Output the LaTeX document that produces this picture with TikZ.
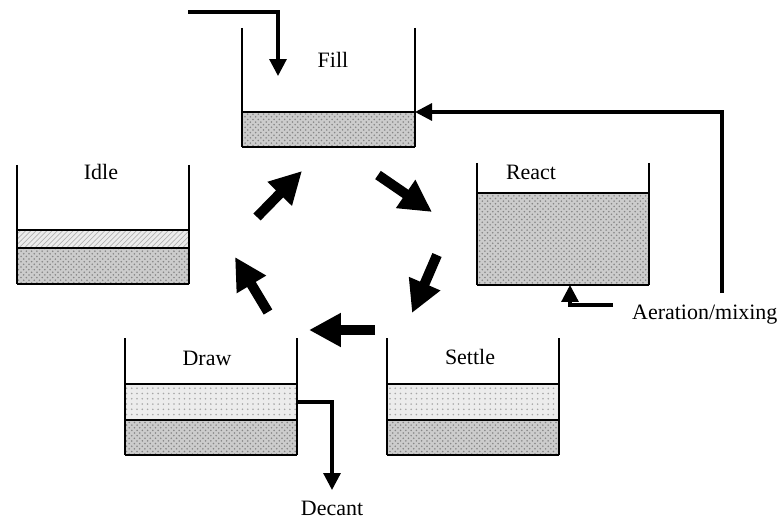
\documentclass[tikz,border=0pt]{standalone}
\usepackage{fontspec}
\setmainfont{Liberation Serif}
\usetikzlibrary{arrows.meta,patterns}

\begin{document}
\begin{tikzpicture}[x=0.02cm,y=-0.02cm,font=\fontsize{12.5}{15}\selectfont,
		wall/.style={line width=0.8pt},
		floor/.style={line width=1.4pt},
		sludge/.style={fill=gray!40,postaction={pattern=crosshatch dots,pattern color=gray!95}},
		supernatant/.style={fill=gray!15,postaction={pattern=dots,pattern color=gray!70}},
		hatched/.style={fill=gray!15,postaction={pattern=north east lines,pattern color=gray!60}},
		pipe/.style={line width=1.8pt,-{Triangle[length=0.34cm,width=0.34cm]}},
		cyclearrow/.style={line width=0.2cm,-{Triangle[length=0.64cm,width=0.64cm]}}]
	\useasboundingbox (0,0) rectangle (777,520);
	
	% liquid layers
	\fill[sludge] (242,112) rectangle (415,147);
	\fill[sludge] (477,193) rectangle (649,285);
	\fill[hatched] (17,230) rectangle (189,248);
	\fill[sludge] (17,248) rectangle (189,284);
	\fill[supernatant] (125,384) rectangle (297,420);
	\fill[sludge] (125,420) rectangle (297,455);
	\fill[supernatant] (387,384) rectangle (559,420);
	\fill[sludge] (387,420) rectangle (559,455);
	
	% tank walls: left x / right x / top / bottom
	\foreach \xl/\xr/\yt/\yb in {242/415/28/147, 477/649/163/285, 17/189/165/284, 125/297/338/455, 387/559/338/455} {
		\draw[wall] (\xl,\yt) -- (\xl,\yb);
		\draw[wall] (\xr,\yt) -- (\xr,\yb);
		\draw[floor] (\xl,\yb) -- (\xr,\yb);
	}
	
	% layer boundaries
	\draw[wall] (242,112) -- (415,112);
	\draw[wall] (477,193) -- (649,193);
	\draw[wall] (17,230) -- (189,230);
	\draw[wall] (17,248) -- (189,248);
	\foreach \xl/\xr in {125/297, 387/559} {
		\draw[wall] (\xl,384) -- (\xr,384);
		\draw[wall] (\xl,420) -- (\xr,420);
	}
	
	% phase labels
	\node (fill) at (333,60) {Fill};
	\node (react) at (531,172) {React};
	\node (idle) at (101,172) {Idle};
	\node (draw) at (207,358) {Draw};
	\node (settle) at (470,357) {Settle};
	\node[anchor=west] (aeration) at (626,315) {Aeration/mixing};
	\node (decant) at (332,508) {Decant};
	
	% pipes
	\coordinate (feed) at (188,12);
	\coordinate (fillIn) at (278,76);
	\coordinate (recycle) at (722,293);
	\coordinate (fillSide) at (415,112);
	\coordinate (airStart) at (613,305);
	\coordinate (reactBase) at (570,285);
	\coordinate (drawSide) at (297,402);
	\coordinate (decantEnd) at (332,490);
	\draw[pipe] (feed) -| (fillIn);
	\draw[pipe] (recycle) |- (fillSide);
	\draw[pipe] (airStart) -| (reactBase);
	\draw[pipe] (drawSide) -| (decantEnd);
	
	% cycle
	\foreach \xa/\ya/\xb/\yb in {257/217/302/171, 378/175/432/212, 437/255/412/313, 375/330/309/330, 268/312/235/257}
		\draw[cyclearrow] (\xa,\ya) -- (\xb,\yb);
\end{tikzpicture}
\end{document}
